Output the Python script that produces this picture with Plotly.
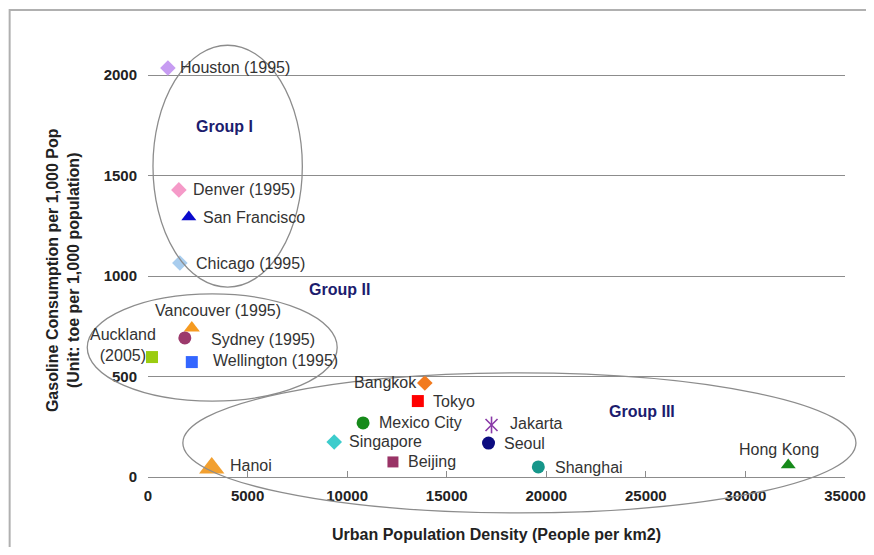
import plotly.graph_objects as go

# ---------------- data ----------------
cities = ["Houston (1995)", "Denver (1995)", "San Francisco", "Chicago (1995)",
          "Vancouver (1995)", "Sydney (1995)", "Auckland<br>(2005)", "Wellington (1995)",
          "Bangkok", "Tokyo", "Mexico City", "Jakarta", "Singapore", "Seoul",
          "Beijing", "Shanghai", "Hanoi", "Hong Kong"]
density = [1000, 1550, 2050, 1600, 2200, 1850, 200, 2200,
           13900, 13550, 10800, 17250, 9350, 17100, 12300, 19600, 3200, 32150]
gasoline = [2036, 1429, 1294, 1065, 742, 692, 597, 572,
            468, 378, 269, 259, 174, 169, 75, 50, 45, 60]

x_ticks = [0, 5000, 10000, 15000, 20000, 25000, 30000, 35000]
y_ticks = [0, 500, 1000, 1500, 2000]

groups = ["Group I", "Group II", "Group III"]
group_label_pos = [(3850, 1747), (9600, 931), (24800, 324)]
# ellipse bounds in data units: (x0, x1, y0, y1)
group_bounds = [(250, 7750, 945, 2149), (-3050, 9500, 378, 911), (1750, 35550, -179, 518)]

# ---------------- styles ----------------
symbols = ["diamond", "diamond", "triangle-up", "diamond", "triangle-up", "circle", "square", "square",
           "diamond", "square", "circle", "star6", "diamond", "circle", "square", "circle",
           "triangle-up", "triangle-up"]
colors = ["#c79cf2", "#f59ac8", "#0a0acc", "#a9cdee", "#f59a20", "#9c3a6c", "#9acc10", "#3366ff",
          "#f27a1e", "#ff0000", "#168a1a", "#8a3aa8", "#3ccccc", "#0c0c80", "#993366", "#16968a",
          "#f2a030", "#168a1a"]
sizes = [12, 12, 13, 12, 14, 13, 12, 12, 12, 12, 13, 12, 12, 13, 11, 13, 22, 13]
# label offsets in px (dx right, dy down), anchor
label_layout = [(10, 0, "left"), (12, 0, "left"), (12, 0, "left"), (14, 0, "left"),
                (26, -17, "center"), (24, 2, "left"), (-29, -12, "center"), (19, -2, "left"),
                (-6, 0, "right"), (13, 0, "left"), (14, 0, "left"), (16, -1, "left"),
                (13, -1, "left"), (13, 0, "left"), (13, 0, "left"), (15, 1, "left"),
                (16, -2, "left"), (-9, -15, "center")]

FONT = "Liberation Sans, Arial, sans-serif"
XR = [0, 35000]
YR = [0, 2200]

fig = go.Figure()
for i, c in enumerate(cities):
    if symbols[i] == "star6":
        # Excel-style star marker: an X crossed by a vertical bar
        for sym in ["x-thin-open", "line-ns-open"]:
            fig.add_trace(go.Scatter(x=[density[i]], y=[gasoline[i]], mode="markers",
                                     marker=dict(symbol=sym, size=sizes[i], color=colors[i],
                                                 line=dict(width=1.6, color=colors[i])),
                                     name=c, showlegend=False, cliponaxis=False,
                                     hoverinfo="name+x+y"))
        continue
    mk = dict(symbol=symbols[i], color=colors[i], size=sizes[i], line=dict(width=0))
    fig.add_trace(go.Scatter(x=[density[i]], y=[gasoline[i]], mode="markers",
                             marker=mk, name=c.replace("<br>", " "),
                             showlegend=False, cliponaxis=False, hoverinfo="name+x+y"))

annotations = []
for i, c in enumerate(cities):
    dx, dy, anc = label_layout[i]
    annotations.append(dict(x=density[i], y=gasoline[i], xref="x", yref="y", text=c,
                            showarrow=False, xanchor=anc, yanchor="middle", align="center",
                            xshift=dx, yshift=-dy,
                            font=dict(family=FONT, size=16, color="#333333")))
for g, (gx, gy) in zip(groups, group_label_pos):
    annotations.append(dict(x=gx, y=gy, xref="x", yref="y", text="<b>%s</b>" % g,
                            showarrow=False, xanchor="center", yanchor="middle",
                            font=dict(family=FONT, size=16, color="#1c1c6e")))

# y-axis title
annotations.append(dict(x=-0.122, y=0.468, xref="paper", yref="paper",
                        text="<b>Gasoline Consumption per 1,000 Pop<br>(Unit: toe per 1,000 population)</b>",
                        textangle=-90, showarrow=False, xanchor="center", yanchor="middle",
                        align="center", font=dict(family=FONT, size=16, color="#222222")))


def px_x(v):
    return (v - XR[0]) / (XR[1] - XR[0])


def px_y(v):
    return (v - YR[0]) / (YR[1] - YR[0])


shapes = []
for (x0, x1, y0, y1) in group_bounds:
    shapes.append(dict(type="circle", xref="paper", yref="paper",
                       x0=px_x(x0), x1=px_x(x1), y0=px_y(y0), y1=px_y(y1),
                       line=dict(color="#8c8c8c", width=1.3), layer="above"))
# outer frame
shapes.append(dict(type="rect", xref="paper", yref="paper", x0=-0.1985, x1=1.06,
                   y0=-0.2, y1=1.0566, line=dict(color="#b0b0b0", width=2), layer="below"))

fig.update_layout(
    width=858, height=539,
    margin=dict(l=140, r=21, t=27, b=70),
    paper_bgcolor="white", plot_bgcolor="white",
    annotations=annotations, shapes=shapes,
    xaxis=dict(range=XR, tickvals=x_ticks, ticktext=[str(v) for v in x_ticks],
               automargin=False,
               showgrid=False, zeroline=False, showline=True, linecolor="#8c8c8c", linewidth=1,
               ticks="inside", ticklen=6, tickcolor="#8c8c8c", ticklabelstandoff=5,
               tickfont=dict(family=FONT, size=15, color="#222222", weight="bold"),
               title=dict(text="<b>Urban Population Density (People per km2)</b>",
                          font=dict(family=FONT, size=16, color="#222222"), standoff=25)),
    yaxis=dict(range=YR, tickvals=y_ticks, ticktext=[str(v) for v in y_ticks],
               automargin=False,
               showgrid=True, gridcolor="#8c8c8c", gridwidth=1, zeroline=False,
               showline=False, ticks="", ticklabelstandoff=10,
               tickfont=dict(family=FONT, size=15, color="#222222", weight="bold")),
)

fig.write_html("out.html")
